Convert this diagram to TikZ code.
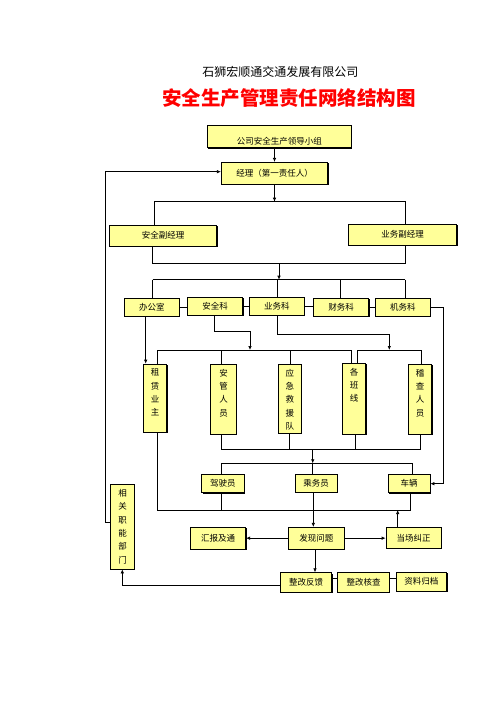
\documentclass[tikz,border=0pt]{standalone}
\usepackage{fontspec}
\newfontfamily\cjk{Noto Sans CJK SC}
\usetikzlibrary{shadows,arrows.meta}
\definecolor{boxfill}{HTML}{FFFF99}
\tikzset{
 box/.style={draw=black, line width=0.7pt, fill=boxfill, inner sep=0pt,
   font=\cjk\fontsize{8.5}{13.3}\selectfont,
   drop shadow={shadow xshift=0.9pt, shadow yshift=-0.9pt, fill=black, opacity=1}},
 vtext/.style={inner sep=0pt, align=center, anchor=north, font=\cjk\fontsize{8.5}{13.3}\selectfont},
 conn/.style={line width=0.7pt, draw=black},
 arr/.style={conn, -{Latex[length=4pt,width=3.5pt]}},
}
\newcommand\bx[6]{\node[box, minimum width={(#4-#2)*1pt}, minimum height={(#5-#3)*1pt}] (#1) at ({(#2+#4)/2},{(#3+#5)/2}) {#6};}
\begin{document}
\begin{tikzpicture}[x=1pt,y=-1pt]
\useasboundingbox[fill=white] (0,0) rectangle (496,702);
% titles
\node[font=\cjk\fontsize{12}{14}\selectfont] (t1) at (280.3,72) {石狮宏顺通交通发展有限公司};
\node[font=\cjk\bfseries\fontsize{19.5}{22}\selectfont, text=red] (t2) at (289,98.5) {安全生产管理责任网络结构图};
% boxes
\bx{lead}{207.3}{125}{351.3}{147.7}{}
\node[font=\cjk\fontsize{8.5}{10}\selectfont, inner sep=0pt] (leadt) at (279.3,141) {公司安全生产领导小组};
\bx{mgr}{221.3}{162.3}{327.7}{184.3}{经理（第一责任人）}
\bx{vsafe}{109.3}{225}{216.7}{246}{安全副经理}
\bx{vbiz}{348.7}{224}{456.7}{245}{业务副经理}
\bx{office}{124.3}{298.3}{179.3}{316}{办公室}
\bx{safety}{187.3}{297.3}{242.7}{315.3}{安全科}
\bx{bizdept}{249.3}{297.3}{304.3}{315.3}{业务科}
\bx{finance}{313.3}{298.3}{368.7}{316}{财务科}
\bx{mech}{375.3}{298.3}{430.3}{316}{机务科}
\bx{lease}{143.3}{364}{166.7}{432.3}{}
\bx{safeper}{210.7}{364.3}{236.3}{434.3}{}
\bx{rescue}{278.3}{364.3}{301.3}{433.3}{}
\bx{lines}{342.3}{363.3}{365.7}{434.3}{}
\bx{inspect}{408.3}{364.3}{431.7}{434.3}{}
\node[vtext] (leaset) at ([yshift=-5pt]lease.north) {租\\赁\\业\\主};
\node[vtext] (safepert) at ([yshift=-5pt]safeper.north) {安\\管\\人\\员};
\node[vtext] (rescuet) at ([yshift=-5pt]rescue.north) {应\\急\\救\\援\\队};
\node[vtext] (linest) at ([yshift=-5pt]lines.north) {各\\班\\线};
\node[vtext] (inspectt) at ([yshift=-5pt]inspect.north) {稽\\查\\人\\员};
\bx{driver}{201.7}{474.7}{244}{492.7}{驾驶员}
\bx{crew}{295}{474.7}{337.3}{492}{乘务员}
\bx{vehicle}{388.3}{474.7}{430}{492.7}{车辆}
\bx{report}{190.7}{527.3}{245.7}{549}{汇报及通}
\bx{find}{288.3}{527.3}{344.3}{549}{发现问题}
\bx{correct}{386}{527.3}{441.3}{548.3}{当场纠正}
\bx{feedback}{280.3}{572.7}{331.7}{592.3}{整改反馈}
\bx{check}{337.7}{572.7}{389.3}{592.3}{整改核查}
\bx{archive}{396}{572}{446.7}{591}{资料归档}
\bx{dept}{110.7}{484.3}{134.3}{569}{}
\node[vtext, anchor=center] (deptt) at (dept.center) {相\\关\\职\\能\\部\\门};
% level 1
\draw[arr] (lead.south -| mgr.north) -- (mgr.north);
\coordinate (a1) at (274.5,201.7);
\coordinate (a1l) at (154.3,201.7);
\coordinate (a1r) at (405,201.7);
\draw[arr] (mgr.south) -- (a1);
\draw[conn] (vsafe.north -| a1l) -- (a1l) -- (a1r) -- (vbiz.north -| a1r);
% loop from dept to manager
\coordinate (lp) at (105.5,171.7);
\coordinate (lq) at (105.5,522.7);
\draw[arr] (dept.west |- lq) -- (lq) -- (lp) -- (lp -| mgr.west);
% level 2
\coordinate (b1l) at (152.7,263.3);
\coordinate (b1r) at (405,263.3);
\coordinate (b1) at (279,263.3);
\coordinate (c1) at (279,279.7);
\draw[conn] (vsafe.south -| b1l) -- (b1l) -- (b1r) -- (vbiz.south -| b1r);
\draw[arr] (b1) -- (c1);
\coordinate (c1l) at (152.7,279.7);
\coordinate (c1r) at (405,279.7);
\coordinate (c2) at (277.3,279.7);
\coordinate (c3) at (340,279.7);
\draw[conn] (c1l) -- (c1r);
\draw[conn] (c1l) -- (office.north -| c1l);
\draw[conn] (c2) -- (bizdept.north -| c2);
\draw[conn] (c3) -- (finance.north -| c3);
\draw[conn] (c1r) -- (mech.north -| c1r);
\draw[conn] (office.east) -- (office.east -| safety.west);
\draw[conn] (safety.east) -- (safety.east -| bizdept.west);
\draw[conn] (bizdept.east) -- (bizdept.east -| finance.west);
\draw[conn] (finance.east) -- (finance.east -| mech.west);
\coordinate (m1) at (443.3,307.7);
\draw[arr] (mech.east) -- (mech.east -| m1) |- (vehicle.east);
% level 3
\coordinate (o1) at (145.7,330);
\draw[arr] (office.south -| o1) -- (lease.north -| o1);
\coordinate (s1) at (214,331.7);
\coordinate (s2) at (250,331.7);
\coordinate (s3) at (250,350);
\draw[arr] (safety.south -| s1) -- (s1) -- (s2) -- (s3);
\coordinate (u1) at (277.7,334);
\coordinate (u2) at (389.3,334);
\coordinate (u3) at (389.3,350);
\draw[arr] (bizdept.south -| u1) -- (u1) -- (u2) -- (u3);
\coordinate (d1) at (157.3,350);
\coordinate (d2) at (221.7,350);
\coordinate (d3) at (290.7,350);
\coordinate (d4) at (351.7,350);
\coordinate (d5) at (357.3,350);
\coordinate (d6) at (421.7,350);
\draw[conn] (d1) -- (d4);
\draw[conn] (d5) -- (d6);
\draw[conn] (d1) -- (lease.north -| d1);
\draw[conn] (d2) -- (safeper.north -| d2);
\draw[conn] (d3) -- (rescue.north -| d3);
\draw[conn] (d4) -- (lines.north -| d4);
\draw[conn] (d5) -- (lines.north -| d5);
\draw[conn] (d6) -- (inspect.north -| d6);
% level 4
\coordinate (e1) at (221.7,449);
\coordinate (e2) at (289,449);
\coordinate (e3) at (355.7,449);
\coordinate (e4) at (420.7,449);
\coordinate (e0) at (312.7,449);
\coordinate (f0) at (312.7,463.3);
\draw[conn] (safeper.south -| e1) -- (e1) -- (e4) -- (inspect.south -| e4);
\draw[conn] (rescue.south -| e2) -- (e2);
\draw[conn] (lines.south -| e3) -- (e3);
\draw[arr] (e0) -- (f0);
\coordinate (f1) at (221.7,463.3);
\coordinate (f2) at (412.7,463.3);
\draw[conn] (driver.north -| f1) -- (f1) -- (f2) -- (vehicle.north -| f2);
\draw[conn] (f0) -- (crew.north -| f0);
\coordinate (g1) at (157.3,510);
\coordinate (g2) at (221,510);
\coordinate (g3) at (410,510);
\coordinate (g4) at (397.7,510);
\draw[conn] (lease.south -| g1) -- (g1) -- (g3) -- (vehicle.south -| g3);
\draw[conn] (driver.south -| g2) -- (g2);
\draw[arr] (correct.north -| g4) -- (g4);
% level 5
\coordinate (h1) at (313.3,500);
\coordinate (h2) at (315,560);
\draw[arr] (crew.south -| h1) -- (find.north -| h1);
\draw[arr] (find.west) -- (report.east);
\draw[arr] (find.east) -- (find.east -| correct.west);
\draw[arr] (find.south -| h2) -- (feedback.north -| h2);
\coordinate (k1) at (300,578.3);
\draw[conn] (feedback.east |- k1) -- (check.west |- k1);
\draw[conn] (check.east |- k1) -- (archive.west |- k1);
\coordinate (k2) at (122.3,585);
\draw[arr] (feedback.west |- k2) -- (k2) -- (dept.south -| k2);
\end{tikzpicture}
\end{document}
